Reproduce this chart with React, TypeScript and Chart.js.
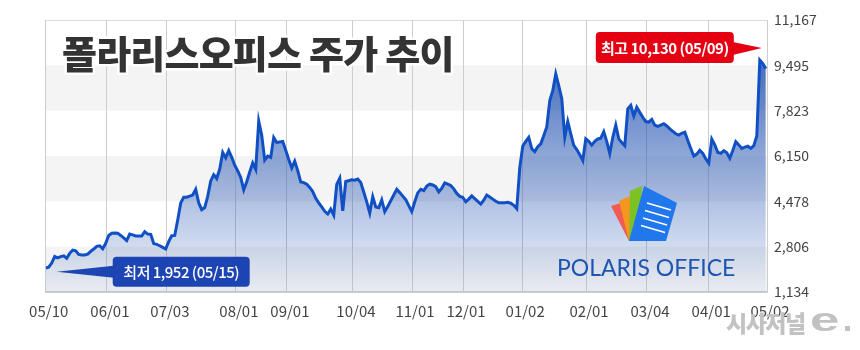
import { useEffect, useRef } from "react";
import { Chart, registerables } from "chart.js";

Chart.register(...registerables);

// Daily closing prices (KRW), one value per trading day from 05/10 to 05/10
const prices = [
  2020, 2050, 2200, 2440, 2390, 2440, 2470, 2380, 2560, 2680,
  2650, 2520, 2500, 2500, 2530, 2630, 2720, 2820, 2840, 2730,
  2930, 3220, 3300, 3310, 3300, 3220, 3130, 3030, 3270, 3240,
  3200, 3200, 3200, 3360, 3270, 3260, 2920, 2890, 2840, 2780,
  2720, 2990, 3210, 3220, 3790, 4420, 4630, 4630, 4670, 4710,
  4920, 4420, 4170, 4250, 4660, 5230, 5460, 5320, 5670, 6280,
  6080, 6350, 6100, 5810, 5600, 5360, 4900, 5200, 5560, 5890,
  5660, 7440, 6920, 6000, 6150, 6100, 6830, 6650, 6670, 6690,
  6360, 6020, 5710, 5960, 5610, 5190, 5170, 5110, 4990, 4840,
  4590, 4420, 4270, 4110, 4010, 4190, 3970, 5100, 5330, 4130,
  5210, 5240, 5270, 5260, 5300, 5170, 4820, 4460, 4050, 4650,
  4270, 4240, 4530, 4100, 4290, 4500, 4710, 4920, 4800, 4670,
  4540, 4320, 4100, 4460, 4790, 4920, 4870, 5040, 5110, 5080,
  5020, 4830, 4960, 5160, 5110, 5060, 4940, 4770, 4660, 4630,
  4460, 4560, 4680, 4580, 4480, 4380, 4520, 4710, 4640, 4560,
  4480, 4430, 4430, 4430, 4440, 4410, 4330, 4210, 5720, 6520,
  6690, 6840, 6420, 6310, 6490, 6600, 6910, 7220, 8200, 8560,
  9180, 8740, 8260, 6840, 7420, 6970, 6540, 6390, 6200, 5980,
  6780, 6690, 6550, 6690, 6780, 6810, 7050, 6680, 6240, 6840,
  7290, 6780, 6650, 6530, 7890, 8020, 7630, 7950, 7760, 7580,
  7420, 7400, 7500, 7290, 7240, 7290, 7340, 7260, 7150, 7060,
  6970, 6920, 6990, 7030, 6720, 6430, 6150, 6220, 6360, 6250,
  6040, 5890, 6770, 6560, 6280, 6250, 6350, 6270, 6070, 6350,
  6680, 6560, 6430, 6480, 6510, 6430, 6530, 6890, 9690, 9560,
  9370,
];

// Trading-day position of each month label
const tickDayIndex = [0, 20.4, 40.4, 63.4, 80.4, 102.4, 122.1, 139.1, 158.8, 180.1, 200.4, 220.8, 240.4];
const tickLabels = ["05/10", "06/01", "07/03", "08/01", "09/01", "10/04", "11/01", "12/01", "01/02", "02/01", "03/04", "04/01", "05/02"];

const yTickValues = [1134, 2806, 4478, 6150, 7823, 9495, 11167];
const yTickLabels = ["1,134", "2,806", "4,478", "6,150", "7,823", "9,495", "11,167"];

const titleText = "폴라리스오피스 주가 추이";
const highValue = 10130;
const highDayIndex = 238;
const highText = "최고 10,130 (05/09)";
const lowValue = 1952;
const lowDayIndex = 3;
const lowText = "최저 1,952 (05/15)";
const logoText = "POLARIS OFFICE";
const watermarkText = "시사저널";

const KR = '"Noto Sans CJK KR", "Noto Sans", sans-serif';

const bgPlugin = {
  id: "bgBands",
  beforeDraw(chart: any) {
    const { ctx, chartArea: a, scales } = chart;
    const y = scales.y;
    ctx.save();
    ctx.fillStyle = "#ffffff";
    ctx.fillRect(0, 0, chart.width, chart.height);
    for (let k = 0; k < yTickValues.length - 1; k++) {
      if (k % 2 === 0) {
        const yb = y.getPixelForValue(yTickValues[k]);
        const yt = y.getPixelForValue(yTickValues[k + 1]);
        ctx.fillStyle = "#f4f4f4";
        ctx.fillRect(a.left, yt, a.right - a.left, yb - yt);
      }
    }
    ctx.strokeStyle = "#d9d9d9";
    ctx.lineWidth = 1;
    ctx.beginPath();
    ctx.moveTo(a.left, a.top + 0.5);
    ctx.lineTo(a.right, a.top + 0.5);
    ctx.stroke();
    ctx.restore();
  },
};

const overlayPlugin = {
  id: "overlay",
  afterDraw(chart: any) {
    const { ctx, scales } = chart;
    const xs = scales.x;
    const ys = scales.y;
    ctx.save();

    // Title
    ctx.font = `900 38px ${KR}`;
    (ctx as any).letterSpacing = "-0.8px";
    ctx.textBaseline = "middle";
    ctx.textAlign = "left";
    ctx.lineJoin = "round";
    ctx.strokeStyle = "#ffffff";
    ctx.lineWidth = 5;
    ctx.strokeText(titleText, 62, 54);
    ctx.fillStyle = "#333333";
    ctx.fillText(titleText, 62, 54);
    (ctx as any).letterSpacing = "0px";

    // High callout
    {
      const tx = xs.getPixelForValue(highDayIndex) + 2;
      const ty = ys.getPixelForValue(highValue);
      const right = tx - 28;
      const w = 138;
      const h = 31;
      ctx.fillStyle = "#e50012";
      ctx.beginPath();
      (ctx as any).roundRect(right - w, ty - 16, w, h, 4);
      ctx.fill();
      ctx.beginPath();
      ctx.moveTo(right - 1, ty - 6);
      ctx.lineTo(tx, ty);
      ctx.lineTo(right - 1, ty + 7);
      ctx.closePath();
      ctx.fill();
      ctx.fillStyle = "#ffffff";
      ctx.font = `bold 15px ${KR}`;
      (ctx as any).letterSpacing = "-0.5px";
      ctx.textAlign = "center";
      ctx.fillText(highText, right - w / 2, ty);
      (ctx as any).letterSpacing = "0px";
    }

    // Low callout
    {
      const tx = xs.getPixelForValue(lowDayIndex) + 2;
      const ty = ys.getPixelForValue(lowValue) + 2;
      const left = tx + 56;
      const w = 137;
      const h = 30;
      ctx.fillStyle = "#1c44b2";
      ctx.beginPath();
      (ctx as any).roundRect(left, ty - 15, w, h, 4);
      ctx.fill();
      ctx.beginPath();
      ctx.moveTo(tx, ty);
      ctx.lineTo(left + 1, ty - 6);
      ctx.lineTo(left + 1, ty + 6);
      ctx.closePath();
      ctx.fill();
      ctx.fillStyle = "#ffffff";
      ctx.font = `500 15px ${KR}`;
      (ctx as any).letterSpacing = "-0.5px";
      ctx.textAlign = "center";
      ctx.fillText(lowText, left + w / 2, ty);
      (ctx as any).letterSpacing = "0px";
    }

    // Polaris Office logo
    const sheet = (pts: number[][], color: string) => {
      ctx.fillStyle = color;
      ctx.beginPath();
      ctx.moveTo(pts[0][0], pts[0][1]);
      for (let i = 1; i < pts.length; i++) ctx.lineTo(pts[i][0], pts[i][1]);
      ctx.closePath();
      ctx.fill();
    };
    sheet([[611, 206], [621, 203], [632, 240], [629, 241]], "#ef5b55");
    sheet([[619, 201], [630, 196], [634, 240], [629, 241]], "#f6951f");
    sheet([[630, 191], [642, 186], [638, 240], [629, 241]], "#7cc225");
    sheet([[644, 186], [677, 203], [666, 241], [629, 241]], "#2177ec");
    ctx.strokeStyle = "#ffffff";
    ctx.lineWidth = 1.6;
    for (let k = 0; k < 4; k++) {
      ctx.beginPath();
      ctx.moveTo(647 - k * 2, 203 + k * 7.5);
      ctx.lineTo(671 - k * 2, 210 + k * 7.5);
      ctx.stroke();
    }
    ctx.fillStyle = "#1d55b0";
    ctx.font = "400 23px Lato";
    ctx.textAlign = "left";
    ctx.textBaseline = "alphabetic";
    ctx.fillText(logoText, 557, 276);

    // Watermark
    ctx.fillStyle = "#c2c2c2";
    ctx.font = `900 23px ${KR}`;
    (ctx as any).letterSpacing = "-1.5px";
    ctx.fillText(watermarkText, 726, 332);
    (ctx as any).letterSpacing = "0px";
    ctx.save();
    ctx.translate(810, 331);
    ctx.scale(1.6, 1);
    ctx.font = "bold 33px 'Liberation Sans'";
    ctx.fillText("e", 0, 0);
    ctx.restore();
    ctx.fillRect(845, 326, 5, 5);

    ctx.restore();
  },
};

export default function App() {
  const ref = useRef<HTMLCanvasElement | null>(null);

  useEffect(() => {
    document.body.style.margin = "0";
    const canvas = ref.current;
    if (!canvas) return;
    const chart = new Chart(canvas, {
      type: "line",
      data: {
        labels: prices.map((_, i) => i),
        datasets: [
          {
            data: prices.map((v, i) => ({ x: i, y: v })),
            borderColor: "#1150c4",
            borderWidth: 3,
            pointRadius: 0,
            tension: 0,
            fill: "start",
            backgroundColor: (context: any) => {
              const { chart } = context;
              const { ctx, chartArea } = chart;
              if (!chartArea) return "rgba(25,75,175,0.4)";
              const g = ctx.createLinearGradient(0, chartArea.top, 0, chartArea.bottom);
              g.addColorStop(0, "rgba(25,75,175,0.92)");
              g.addColorStop(1, "rgba(25,75,175,0.05)");
              return g;
            },
          },
        ],
      },
      options: {
        animation: false,
        responsive: false,
        devicePixelRatio: 1,
        layout: { padding: { left: 45.7, top: 20, right: 0, bottom: 0 } },
        plugins: {
          legend: { display: false },
          tooltip: { enabled: false },
          title: { display: false },
        },
        scales: {
          x: {
            type: "linear",
            min: 0,
            max: 240.4,
            afterBuildTicks: (scale: any) => {
              scale.ticks = tickDayIndex.map((v) => ({ value: v }));
            },
            afterFit: (scale: any) => {
              scale.height = 58;
            },
            grid: { color: "#cdcdcd", lineWidth: 1, drawTicks: false },
            border: { display: true, color: "#cccccc", width: 2 },
            ticks: {
              autoSkip: false,
              maxRotation: 0,
              padding: 10,
              labelOffset: 3,
              color: "#444444",
              font: { family: KR, size: 15 },
              callback: (_v: any, i: number) => tickLabels[i],
            },
          },
          y: {
            type: "linear",
            position: "right",
            min: 1134,
            max: 11167,
            afterBuildTicks: (scale: any) => {
              scale.ticks = yTickValues.map((v) => ({ value: v }));
            },
            afterFit: (scale: any) => {
              scale.width = 93;
            },
            grid: { display: false, drawTicks: false },
            border: { display: false },
            ticks: {
              padding: 7,
              color: "#444444",
              font: { family: KR, size: 14 },
              callback: (_v: any, i: number) => yTickLabels[i],
            },
          },
        },
      },
      plugins: [bgPlugin, overlayPlugin],
    });
    return () => chart.destroy();
  }, []);

  return (
    <div style={{ width: 860, height: 350 }}>
      <canvas ref={ref} width={860} height={350} style={{ display: "block", width: 860, height: 350 }} />
    </div>
  );
}
